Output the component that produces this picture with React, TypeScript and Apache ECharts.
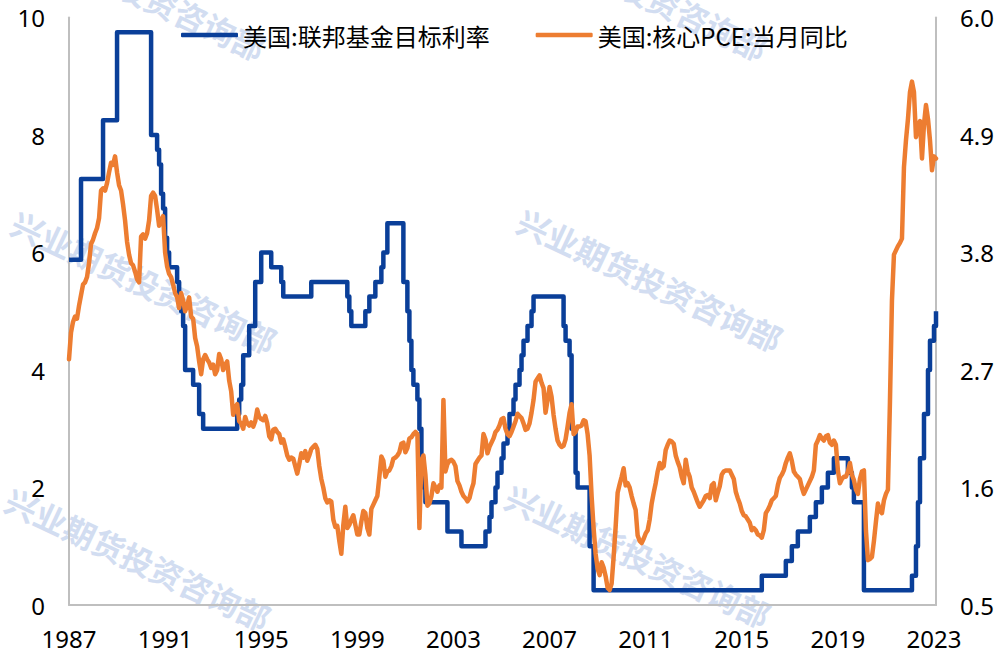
import React, { useEffect, useRef } from "react";
import * as echarts from "echarts";

// ---- Data ----
// Monthly categories: Feb 1987 .. Mar 2023
const firstMonth = { year: 1987, month: 2 };
const lastMonth = { year: 2023, month: 3 };
function buildMonths(): string[] {
  const out: string[] = [];
  let y = firstMonth.year;
  let m = firstMonth.month;
  while (y < lastMonth.year || (y === lastMonth.year && m <= lastMonth.month)) {
    out.push(`${y}-${m < 10 ? "0" + m : m}`);
    m++;
    if (m > 12) {
      m = 1;
      y++;
    }
  }
  return out;
}
const months = buildMonths();

// Fed funds target rate (%): month of change and new level
const fedChangeMonths = [
  "1987-02", "1987-08", "1988-07", "1989-02", "1990-07", "1990-10", "1990-11", "1990-12",
  "1991-01", "1991-02", "1991-03", "1991-04", "1991-08", "1991-09", "1991-10", "1991-11",
  "1991-12", "1992-04", "1992-07", "1992-09", "1994-02", "1994-03", "1994-04", "1994-05",
  "1994-08", "1994-11", "1995-02", "1995-07", "1995-12", "1996-01", "1997-03", "1998-09",
  "1998-10", "1998-11", "1999-06", "1999-08", "1999-11", "2000-02", "2000-03", "2000-05",
  "2001-01", "2001-03", "2001-04", "2001-05", "2001-06", "2001-08", "2001-09", "2001-10",
  "2001-11", "2001-12", "2002-11", "2003-06", "2004-06", "2004-08", "2004-09", "2004-11",
  "2004-12", "2005-02", "2005-03", "2005-05", "2005-06", "2005-08", "2005-09", "2005-11",
  "2005-12", "2006-01", "2006-03", "2006-05", "2006-06", "2007-09", "2007-10", "2007-12",
  "2008-01", "2008-03", "2008-04", "2008-10", "2008-12", "2015-12", "2016-12", "2017-03",
  "2017-06", "2017-12", "2018-03", "2018-06", "2018-09", "2018-12", "2019-07", "2019-09",
  "2019-10", "2020-03", "2022-03", "2022-05", "2022-06", "2022-07", "2022-09", "2022-11",
  "2022-12", "2023-02", "2023-03",
];
const fedChangeValues = [
  5.875, 7.25, 8.25, 9.75, 8.0, 7.75, 7.5, 7.0,
  6.75, 6.25, 6.0, 5.75, 5.5, 5.25, 5.0, 4.75,
  4.0, 3.75, 3.25, 3.0, 3.25, 3.5, 3.75, 4.25,
  4.75, 5.5, 6.0, 5.75, 5.5, 5.25, 5.5, 5.25,
  5.0, 4.75, 5.0, 5.25, 5.5, 5.75, 6.0, 6.5,
  5.5, 5.0, 4.5, 4.0, 3.75, 3.5, 3.0, 2.5,
  2.0, 1.75, 1.25, 1.0, 1.25, 1.5, 1.75, 2.0,
  2.25, 2.5, 2.75, 3.0, 3.25, 3.5, 3.75, 4.0,
  4.25, 4.5, 4.75, 5.0, 5.25, 4.75, 4.5, 4.25,
  3.0, 2.25, 2.0, 1.0, 0.25, 0.5, 0.75, 1.0,
  1.25, 1.5, 1.75, 2.0, 2.25, 2.5, 2.25, 2.0,
  1.75, 0.25, 0.5, 1.0, 1.75, 2.5, 3.25, 4.0,
  4.5, 4.75, 5.0,
];

// Core PCE YoY (%), monthly Feb 1987 .. Mar 2023
const corePce = [
  2.8, 3.05, 3.15, 3.2, 3.18, 3.3, 3.4, 3.5, 3.52, 3.57,
  3.7, 3.88, 3.92, 3.98, 4.03, 4.12, 4.38, 4.4, 4.38, 4.45,
  4.55, 4.64, 4.62, 4.7, 4.55, 4.43, 4.38, 4.25, 4.1, 3.9,
  3.78, 3.7, 3.68, 3.62, 3.55, 3.52, 3.95, 3.97, 3.93, 3.98,
  4.1, 4.33, 4.36, 4.33, 4.2, 4.05, 4.1, 4.14, 3.8, 3.67,
  3.6, 3.57, 3.5, 3.42, 3.38, 3.28, 3.42, 3.35, 3.25, 3.3,
  3.38, 3.2, 3.18, 3.0, 2.92, 2.78, 2.66, 2.8, 2.84, 2.8,
  2.77, 2.72, 2.75, 2.66, 2.7, 2.85, 2.8, 2.7, 2.75, 2.78,
  2.6, 2.5, 2.28, 2.35, 2.38, 2.22, 2.2, 2.15, 2.26, 2.2,
  2.18, 2.21, 2.17, 2.22, 2.33, 2.26, 2.24, 2.23, 2.27, 2.2,
  2.08, 2.05, 2.14, 2.15, 2.12, 2.1, 2.02, 2.05, 1.98, 1.9,
  1.86, 1.88, 1.87, 1.8, 1.73, 1.82, 1.92, 1.88, 1.94, 1.85,
  1.9, 1.96, 1.98, 2.0, 1.96, 1.8, 1.68, 1.6, 1.5, 1.46,
  1.48, 1.47, 1.3, 1.23, 1.24, 1.1, 0.98, 1.25, 1.42, 1.22,
  1.25, 1.3, 1.34, 1.25, 1.16, 1.16, 1.28, 1.38, 1.36, 1.22,
  1.16, 1.4, 1.44, 1.48, 1.52, 1.7, 1.89, 1.85, 1.7, 1.75,
  1.76, 1.8, 1.87, 1.88, 1.9, 1.93, 2.01, 2.02, 1.93, 1.97,
  2.06, 2.07, 2.1, 2.12, 2.1, 1.22, 1.85, 1.9, 1.72, 1.43,
  1.45, 1.52, 1.64, 1.6, 1.56, 1.62, 1.6, 2.42, 1.75, 1.82,
  1.85, 1.86, 1.84, 1.8, 1.66, 1.62, 1.56, 1.52, 1.5, 1.47,
  1.5, 1.58, 1.64, 1.82, 1.85, 1.88, 1.9, 2.1, 2.05, 1.92,
  1.98, 2.02, 2.06, 2.12, 2.14, 2.18, 2.24, 2.25, 2.15, 2.1,
  2.08, 2.12, 2.17, 2.22, 2.29, 2.27, 2.25, 2.2, 2.14, 2.15,
  2.2, 2.3, 2.42, 2.59, 2.62, 2.65, 2.58, 2.53, 2.3, 2.42,
  2.54, 2.45, 2.28, 2.15, 2.04, 2.0, 1.98, 1.99, 2.05, 2.17,
  2.3, 2.38, 2.1, 2.12, 2.17, 2.17, 2.18, 2.23, 2.22, 2.1,
  1.9, 1.52, 1.22, 0.98, 0.84, 0.78, 0.9, 0.85, 0.77, 0.66,
  0.64, 0.7, 0.95, 1.23, 1.55, 1.63, 1.7, 1.78, 1.62, 1.64,
  1.6, 1.52, 1.45, 1.39, 1.15, 1.1, 1.08, 1.12, 1.17, 1.2,
  1.3, 1.45, 1.55, 1.64, 1.75, 1.83, 1.78, 1.8, 1.95, 2.0,
  2.04, 2.03, 2.01, 1.9, 1.84, 1.79, 1.7, 1.64, 1.86, 1.75,
  1.7, 1.6, 1.56, 1.51, 1.46, 1.42, 1.45, 1.48, 1.52, 1.53,
  1.5, 1.62, 1.64, 1.48, 1.55, 1.61, 1.72, 1.75, 1.76, 1.76,
  1.76, 1.72, 1.68, 1.56, 1.5, 1.45, 1.38, 1.34, 1.33, 1.3,
  1.27, 1.2, 1.22, 1.2, 1.16, 1.15, 1.13, 1.2, 1.36, 1.39,
  1.43, 1.48, 1.5, 1.52, 1.62, 1.69, 1.72, 1.76, 1.83, 1.88,
  1.92, 1.85, 1.75, 1.72, 1.7, 1.68, 1.6, 1.54, 1.58, 1.62,
  1.66, 1.7, 1.76, 2.0, 2.04, 2.09, 2.06, 2.04, 2.08, 2.09,
  2.02, 2.0, 2.04, 2.0, 1.76, 1.64, 1.68, 1.7, 1.7, 1.75,
  1.83, 1.72, 1.67, 1.58, 1.54, 1.68, 1.75, 1.76, 1.2, 0.92,
  0.93, 0.95, 1.1, 1.28, 1.45, 1.38, 1.36, 1.48, 1.54, 1.58,
  2.4, 3.35, 3.78, 3.82, 3.86, 3.89, 3.93, 4.6, 4.85, 5.05,
  5.3, 5.4, 5.3, 4.88, 4.98, 5.03, 4.68, 5.0, 5.18, 5.05,
  4.85, 4.57, 4.7, 4.68,
];

const leftTicks = [0, 2, 4, 6, 8, 10];
const rightTickLabels = ["0.5", "1.6", "2.7", "3.8", "4.9", "6.0"];

const seriesNames = ["美国:联邦基金目标利率", "美国:核心PCE:当月同比"];
const watermarkText = "兴业期货投资咨询部";

const BLUE = "#0A3F99";
const ORANGE = "#ED7D31";
const AXIS_GRAY = "#BFBFBF";
const NUM_FONT = "'Noto Sans', 'Open Sans', sans-serif";
const CJK_FONT = "'Noto Sans CJK SC', 'Noto Sans', sans-serif";

export default function App() {
  const ref = useRef<HTMLDivElement>(null);

  useEffect(() => {
    if (!ref.current) return;
    const chart = echarts.init(ref.current, undefined, { renderer: "svg" });

    const fedData = fedChangeMonths.map((m, k) => [m, fedChangeValues[k]]);

    const wmPositions = [
      [3, -73], [505, -73],
      [14, 220], [520, 218],
      [8, 497], [508, 494],
    ];

    const option: any = {
      animation: false,
      backgroundColor: "#ffffff",
      graphic: wmPositions.map(([x, y]) => ({
        type: "text",
        x,
        y,
        rotation: -0.44,
        silent: true,
        z: 0,
        style: {
          text: watermarkText,
          fill: "#D2DDF1",
          font: `bold 32px ${CJK_FONT}`,
          textAlign: "left",
          textVerticalAlign: "middle",
        },
      })),
      legend: {
        left: 176,
        top: 18,
        padding: 5,
        icon: "roundRect",
        itemWidth: 57,
        itemHeight: 4.5,
        itemGap: 46,
        data: seriesNames,
        textStyle: { fontSize: 24, color: "#000", fontFamily: CJK_FONT },
      },
      grid: { left: 69, right: 64, top: 17.5, bottom: 48, containLabel: false },
      xAxis: {
        type: "category",
        data: months,
        boundaryGap: false,
        axisLine: { show: true, lineStyle: { color: AXIS_GRAY, width: 2 } },
        axisTick: { show: false },
        splitLine: { show: false },
        axisLabel: {
          interval: 47,
          margin: 21,
          fontSize: 24,
          color: "#000",
          fontFamily: NUM_FONT,
          formatter: (v: string) => v.slice(0, 4),
        },
      },
      yAxis: [
        {
          type: "value",
          min: leftTicks[0],
          max: leftTicks[leftTicks.length - 1],
          interval: 2,
          position: "left",
          axisLine: { show: true, lineStyle: { color: AXIS_GRAY, width: 2 } },
          axisTick: { show: false },
          splitLine: { show: false },
          axisLabel: { fontSize: 24, color: "#000", fontFamily: NUM_FONT, margin: 24 },
        },
        {
          type: "value",
          min: 0.5,
          max: 6.0,
          position: "right",
          show: false,
          splitLine: { show: false },
        },
        {
          type: "value",
          min: 0,
          max: 5.5,
          interval: 1.1,
          position: "right",
          axisLine: { show: true, lineStyle: { color: AXIS_GRAY, width: 2 } },
          axisTick: { show: false },
          splitLine: { show: false },
          axisLabel: {
            fontSize: 24,
            color: "#000",
            fontFamily: NUM_FONT,
            margin: 24,
            formatter: (v: number) => rightTickLabels[Math.round(v / 1.1)] ?? "",
          },
        },
      ],
      series: [
        {
          name: seriesNames[0],
          type: "line",
          yAxisIndex: 0,
          data: fedData,
          step: "end",
          symbol: "none",
          lineStyle: { color: BLUE, width: 4.5, join: "round" },
          itemStyle: { color: BLUE },
          z: 3,
        },
        {
          name: seriesNames[1],
          type: "line",
          yAxisIndex: 1,
          data: corePce,
          symbol: "none",
          lineStyle: { color: ORANGE, width: 4.5, join: "round", cap: "round" },
          itemStyle: { color: ORANGE },
          z: 4,
        },
      ],
    };

    chart.setOption(option);
    return () => chart.dispose();
  }, []);

  return (
    <div
      ref={ref}
      style={{ position: "absolute", left: 0, top: 0, width: 1000, height: 653, background: "#fff" }}
    />
  );
}
